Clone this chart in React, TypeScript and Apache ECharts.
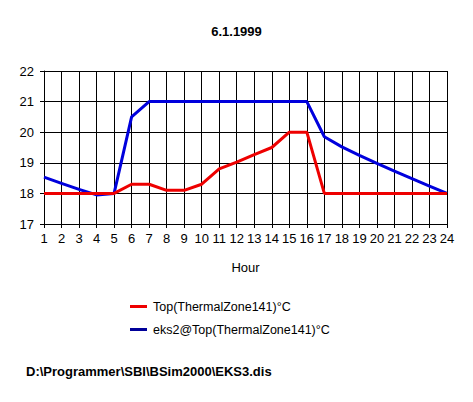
import React, { useEffect, useRef } from "react";
import * as echarts from "echarts";

const hours = ["1","2","3","4","5","6","7","8","9","10","11","12","13","14","15","16","17","18","19","20","21","22","23","24"];
const topZone = [18, 18, 18, 18, 18, 18.3, 18.3, 18.1, 18.1, 18.3, 18.8, 19.02, 19.27, 19.5, 20, 20, 18, 18, 18, 18, 18, 18, 18, 18];
const eks2Top = [18.53, 18.33, 18.13, 17.95, 18, 20.5, 21, 21, 21, 21, 21, 21, 21, 21, 21, 21, 19.85, 19.52, 19.24, 18.98, 18.73, 18.48, 18.24, 18];
const seriesNames = ["Top(ThermalZone141)°C", "eks2@Top(ThermalZone141)°C"];
const titleText = "6.1.1999";
const footerText = "D:\\Programmer\\SBI\\BSim2000\\EKS3.dis";

const FONT = "Arial, 'Liberation Sans', sans-serif";

export default function App() {
  const ref = useRef<HTMLDivElement>(null);
  useEffect(() => {
    document.body.style.margin = "0";
    const chart = echarts.init(ref.current!, null, { renderer: "svg" });
    chart.setOption({
      animation: false,
      backgroundColor: "#ffffff",
      title: {
        text: titleText,
        left: "center",
        top: 20,
        textStyle: { fontFamily: FONT, fontSize: 13, fontWeight: "bold", color: "#000" },
      },
      grid: { left: 44, right: 26, top: 71, bottom: 178, containLabel: false },
      xAxis: {
        type: "category",
        data: hours,
        boundaryGap: false,
        name: "Hour",
        nameLocation: "middle",
        nameGap: 37,
        nameTextStyle: { fontFamily: FONT, fontSize: 13, color: "#000" },
        axisLine: { lineStyle: { color: "#000", width: 1 } },
        axisTick: { show: true, length: 4, lineStyle: { color: "#000" }, alignWithLabel: true },
        axisLabel: { fontFamily: FONT, fontSize: 13, color: "#000", margin: 8, interval: 0 },
        splitLine: { show: true, lineStyle: { color: "#000", width: 1 } },
      },
      yAxis: {
        type: "value",
        min: 17,
        max: 22,
        interval: 1,
        axisLine: { show: true, lineStyle: { color: "#000", width: 1 } },
        axisTick: { show: true, length: 4, lineStyle: { color: "#000" } },
        axisLabel: { fontFamily: FONT, fontSize: 13, color: "#000", margin: 10 },
        splitLine: { show: true, lineStyle: { color: "#000", width: 1 } },
      },
      legend: {
        orient: "vertical",
        left: 130,
        top: 300,
        padding: 0,
        itemWidth: 17,
        itemHeight: 3,
        itemGap: 10,
        icon: "rect",
        textStyle: { fontFamily: FONT, fontSize: 12.5, color: "#000", padding: [0, 0, 0, 1] },
        data: [
          { name: seriesNames[0], itemStyle: { color: "#ee0000" } },
          { name: seriesNames[1], itemStyle: { color: "#000099" } },
        ],
      },
      series: [
        {
          name: seriesNames[1],
          type: "line",
          data: eks2Top,
          showSymbol: false,
          symbol: "none",
          lineStyle: { color: "#0000dd", width: 3 },
          itemStyle: { color: "#0000dd" },
          z: 2,
        },
        {
          name: seriesNames[0],
          type: "line",
          data: topZone,
          showSymbol: false,
          symbol: "none",
          lineStyle: { color: "#ee0000", width: 3 },
          itemStyle: { color: "#ee0000" },
          z: 3,
        },
      ],
      graphic: [
        {
          type: "text",
          left: 26,
          top: 365,
          style: { text: footerText, fontFamily: FONT, fontSize: 13, fontWeight: "bold", fill: "#000" },
        },
      ],
    });
    return () => chart.dispose();
  }, []);
  return <div ref={ref} style={{ width: 473, height: 402 }} />;
}
